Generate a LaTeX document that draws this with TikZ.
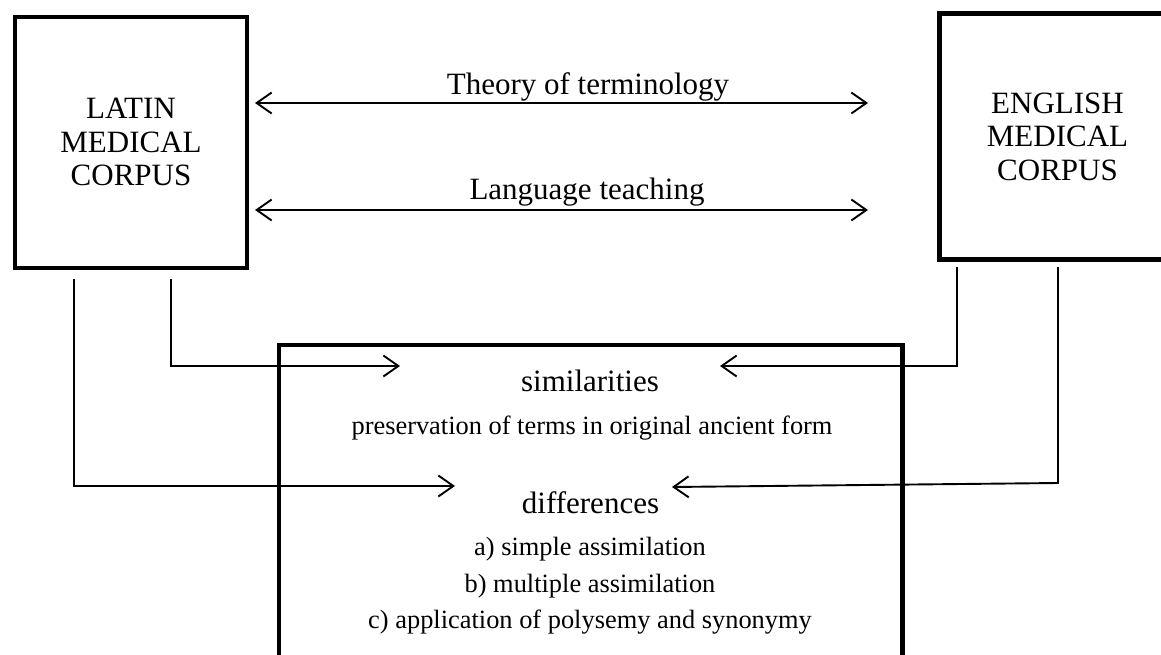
\documentclass[tikz,border=0pt]{standalone}
\usepackage{fontspec}
\setmainfont{Liberation Serif}
\usetikzlibrary{arrows.meta}
\begin{document}
\begin{tikzpicture}[x=1pt,y=-1pt,
  box/.style={draw, line width=4.5pt, rectangle, inner sep=0pt, align=center,
    font=\fontsize{31}{33.5}\selectfont},
  big/.style={font=\fontsize{31}{33.5}\selectfont, inner sep=0pt, anchor=base},
  small/.style={font=\fontsize{26.4}{30}\selectfont, inner sep=0pt, anchor=base},
  conn/.style={line width=1.9pt, -{Straight Barb[length=15pt,width=21pt]}},
  dbl/.style={line width=1.9pt, {Straight Barb[length=15pt,width=21pt]}-{Straight Barb[length=15pt,width=21pt]}},
]
\clip (0,0) rectangle (1161,655);
% boxes
\node[box, minimum width=232pt, minimum height=251pt] (latin) at (131,142.3)
  {LATIN\\MEDICAL\\CORPUS};
\node[box, minimum width=236pt, minimum height=246pt] (english) at (1057.5,136.7)
  {ENGLISH\\MEDICAL\\CORPUS};
\node[draw, line width=4.5pt, rectangle, inner sep=0pt,
  minimum width=623.7pt, minimum height=400pt] (mid) at (590.6,545) {};
% top labels
\node[big] (theory) at (588,95) {Theory of terminology};
\node[big] (lang) at (587,200) {Language teaching};
% box texts
\node[big] (sim) at (590,391) {similarities};
\node[small] (pres) at (592,434) {preservation of terms in original ancient form};
\node[big] (diff) at (590.5,513) {differences};
\node[small] (da) at (590,555) {a) simple assimilation};
\node[small] (db) at (590,592) {b) multiple assimilation};
\node[small] (dc) at (590,628) {c) application of polysemy and synonymy};
% coordinates
\coordinate (t1l) at (255,103);
\coordinate (t1r) at (868,103);
\coordinate (t2l) at (255,210);
\coordinate (t2r) at (868,210);
\coordinate (la) at (74,279);
\coordinate (lb) at (171,279);
\coordinate (ea) at (957,267);
\coordinate (eb) at (1058,267);
\coordinate (simL) at (400,366);
\coordinate (simR) at (720,366);
\coordinate (difL) at (455,486);
\coordinate (difR) at (672,487);
% connectors
\draw[dbl] (t1l) -- (t1r);
\draw[dbl] (t2l) -- (t2r);
\draw[conn] (lb) |- (simL);
\draw[conn] (la) |- (difL);
\draw[conn] (ea) |- (simR);
\draw[conn] (eb) -- (1058,483) -- (difR);
\end{tikzpicture}
\end{document}
